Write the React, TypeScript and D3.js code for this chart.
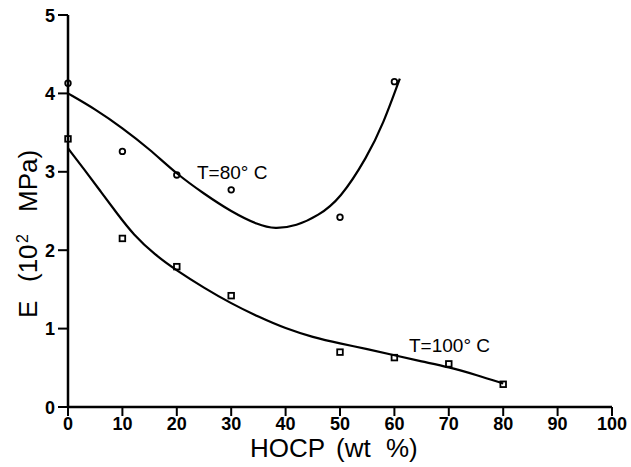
import React from 'react';
import * as d3 from 'd3';

// measured points
const hocp80 = [0, 10, 20, 30, 50, 60];
const e80 = [4.13, 3.26, 2.96, 2.77, 2.42, 4.15];
const hocp100 = [0, 10, 20, 30, 50, 60, 70, 80];
const e100 = [3.42, 2.15, 1.79, 1.42, 0.70, 0.63, 0.55, 0.29];

// fitted curves
const fit80X = [0, 5, 10, 15, 20, 25, 30, 35, 38, 42, 46, 50, 55, 58, 61];
const fit80Y = [4.0, 3.8, 3.56, 3.29, 2.97, 2.72, 2.49, 2.32, 2.27, 2.31, 2.44, 2.65, 3.19, 3.62, 4.19];
const fit100X = [0, 3, 6, 9, 12, 16, 20, 25, 30, 35, 40, 45, 50, 55, 60, 65, 70, 75, 80];
const fit100Y = [3.3, 3.03, 2.75, 2.47, 2.2, 1.94, 1.74, 1.52, 1.32, 1.15, 1.0, 0.89, 0.81, 0.74, 0.66, 0.58, 0.51, 0.41, 0.3];

const xTicks = [0, 10, 20, 30, 40, 50, 60, 70, 80, 90, 100];
const yTicks = [0, 1, 2, 3, 4, 5];

const W = 631;
const H = 467;
const margin = { top: 15, right: 19, bottom: 60, left: 68 };
const font = '"Liberation Sans", Arial, sans-serif';

const x = d3.scaleLinear().domain([0, 100]).range([margin.left, W - margin.right]);
const y = d3.scaleLinear().domain([0, 5]).range([H - margin.bottom, margin.top]);

const line = d3.line<[number, number]>()
    .x(d => x(d[0]))
    .y(d => y(d[1]))
    .curve(d3.curveBasis);

const App = () => {
    const curve80 = fit80X.map((v, i) => [v, fit80Y[i]] as [number, number]);
    const curve100 = fit100X.map((v, i) => [v, fit100Y[i]] as [number, number]);
    const y0 = y(0);

    return (
        <svg width={W} height={H} style={{ display: 'block', position: 'absolute', left: 0, top: 0, background: '#fff' }}>
            {/* axes */}
            <line x1={x(0)} x2={x(100)} y1={y0} y2={y0} stroke="#000" strokeWidth={2.5} />
            <line x1={x(0)} x2={x(0)} y1={y(5)} y2={y0} stroke="#000" strokeWidth={2.5} />
            {xTicks.map(t => (
                <g key={'x' + t}>
                    <line x1={x(t)} x2={x(t)} y1={y0} y2={y0 + 9} stroke="#000" strokeWidth={2} />
                    <text x={x(t)} y={430} textAnchor="middle" fontFamily={font} fontSize={18} fontWeight="bold">{t}</text>
                </g>
            ))}
            {yTicks.map(t => (
                <g key={'y' + t}>
                    <line x1={x(0) - 10} x2={x(0)} y1={y(t)} y2={y(t)} stroke="#000" strokeWidth={2} />
                    <text x={x(0) - 13} y={y(t) + 6.5} textAnchor="end" fontFamily={font} fontSize={18} fontWeight="bold">{t}</text>
                </g>
            ))}

            {/* x axis title */}
            <g fontFamily={font} fontSize={26}>
                <text x={250} y={457}>HOCP</text>
                <text x={336} y={457}>(wt</text>
                <text x={386} y={457}>%)</text>
            </g>

            {/* y axis title */}
            <g transform="translate(37,318) rotate(-90)" fontFamily={font} fontSize={26}>
                <text x={0} y={0}>E</text>
                <text x={36} y={0}>(10</text>
                <text x={75} y={-9} fontSize={16}>2</text>
                <text x={106} y={0}>MPa)</text>
            </g>

            {/* fitted curves */}
            <path d={line(curve80) ?? ''} fill="none" stroke="#000" strokeWidth={2.2} />
            <path d={line(curve100) ?? ''} fill="none" stroke="#000" strokeWidth={2.2} />

            {/* data markers */}
            {hocp80.map((v, i) => (
                <circle key={'c' + i} cx={x(v)} cy={y(e80[i])} r={2.8} fill="none" stroke="#000" strokeWidth={1.8} />
            ))}
            {hocp100.map((v, i) => (
                <rect key={'s' + i} x={x(v) - 2.8} y={y(e100[i]) - 2.8} width={5.6} height={5.6} fill="none" stroke="#000" strokeWidth={1.8} />
            ))}

            {/* series labels */}
            <text x={197} y={179} fontFamily={font} fontSize={19}>T=80° C</text>
            <text x={409} y={352} fontFamily={font} fontSize={19}>T=100° C</text>
        </svg>
    );
};

export default App;
